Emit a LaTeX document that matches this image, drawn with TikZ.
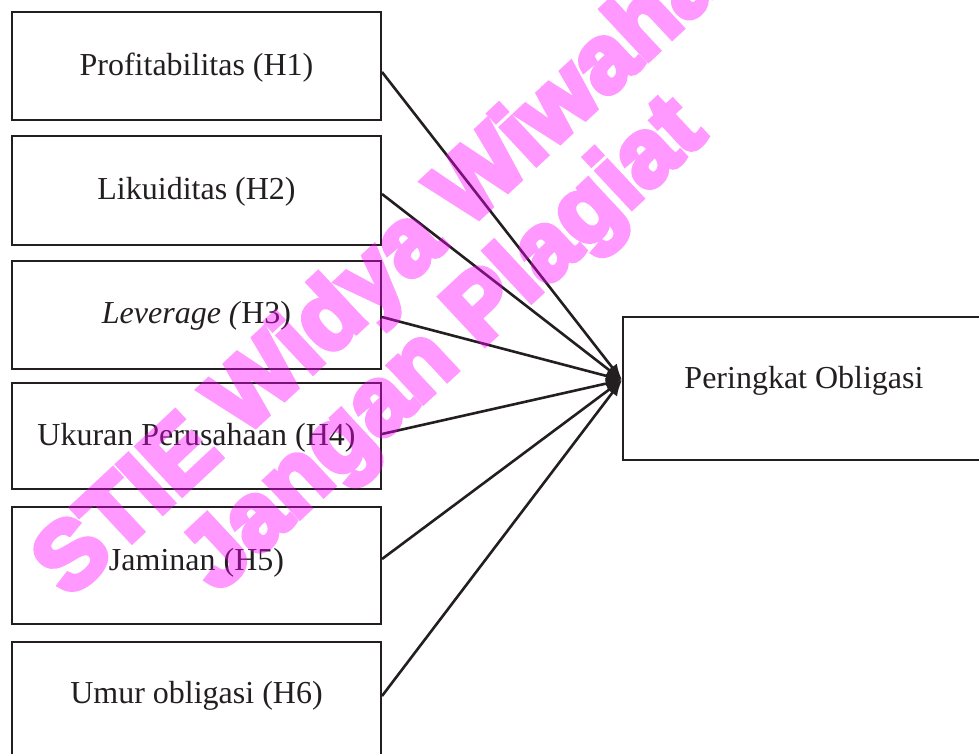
\documentclass[tikz,border=0pt]{standalone}
\usepackage{fontspec}
\setmainfont{Liberation Serif}
\newfontfamily\wmfont{Liberation Sans}[BoldFeatures={FakeBold=6}]
\usetikzlibrary{arrows.meta}
\definecolor{ink}{RGB}{35,31,32}
\definecolor{wmcol}{RGB}{255,0,255}
\begin{document}
\begin{tikzpicture}[x=1pt,y=-1pt,
  box/.style={draw=ink, line width=2pt, minimum width=369pt, inner sep=0pt},
  lbl/.style={font=\fontsize{32}{38}\selectfont, text=ink, anchor=base, inner sep=0pt},
  link/.style={draw=ink, line width=2.6pt, -{Latex[length=16pt,width=12pt]}},
  wm/.style={font=\wmfont\bfseries\fontsize{95}{100}\selectfont, text=wmcol, anchor=base, rotate=43, inner sep=0pt}]
\useasboundingbox (0,0) rectangle (979,753);
\clip (0,0) rectangle (979,753);
% boxes
\node[box, minimum height=108pt] (b1) at (196.5,66) {};
\node[box, minimum height=109pt] (b2) at (196.5,190.5) {};
\node[box, minimum height=108pt] (b3) at (196.5,315) {};
\node[box, minimum height=106pt] (b4) at (196.5,436) {};
\node[box, minimum height=117pt] (b5) at (196.5,565.5) {};
\node[box, minimum height=158pt] (b6) at (196.5,721) {};
\node[box, minimum width=387pt, minimum height=143pt] (pb) at (816.5,388.5) {};
% labels
\node[lbl] (t1) at (196.5,75) {Profitabilitas (H1)};
\node[lbl] (t2) at (196.5,199) {Likuiditas (H2)};
\node[lbl] (t3) at (196.5,323) {\textit{Leverage (}H3)};
\node[lbl] (t4) at (196.5,445) {Ukuran Perusahaan (H4)};
\node[lbl] (t5) at (196.5,570) {Jaminan (H5)};
\node[lbl] (t6) at (196.5,703) {Umur obligasi (H6)};
\node[lbl] (tp) at (804,388) {Peringkat Obligasi};
% connectors
\draw[link] ([yshift=-6pt]b1.east) -- ([yshift=8.5pt]pb.west);
\draw[link] ([yshift=-3.5pt]b2.east) -- ([yshift=8.5pt]pb.west);
\draw[link] ([yshift=-2pt]b3.east) -- ([yshift=8.5pt]pb.west);
\draw[link] ([yshift=2pt]b4.east) -- ([yshift=8.5pt]pb.west);
\draw[link] ([yshift=6.5pt]b5.east) -- ([yshift=8.5pt]pb.west);
\draw[link] ([yshift=25pt]b6.east) -- ([yshift=8.5pt]pb.west);
% watermark
\begin{scope}[transparency group, opacity=0.4]
\node[wm] (w1) at (397,294) {STIE Widya Wiwaha};
\node[wm] (w2) at (463,365) {Jangan Plagiat};
\end{scope}
\end{tikzpicture}
\end{document}
